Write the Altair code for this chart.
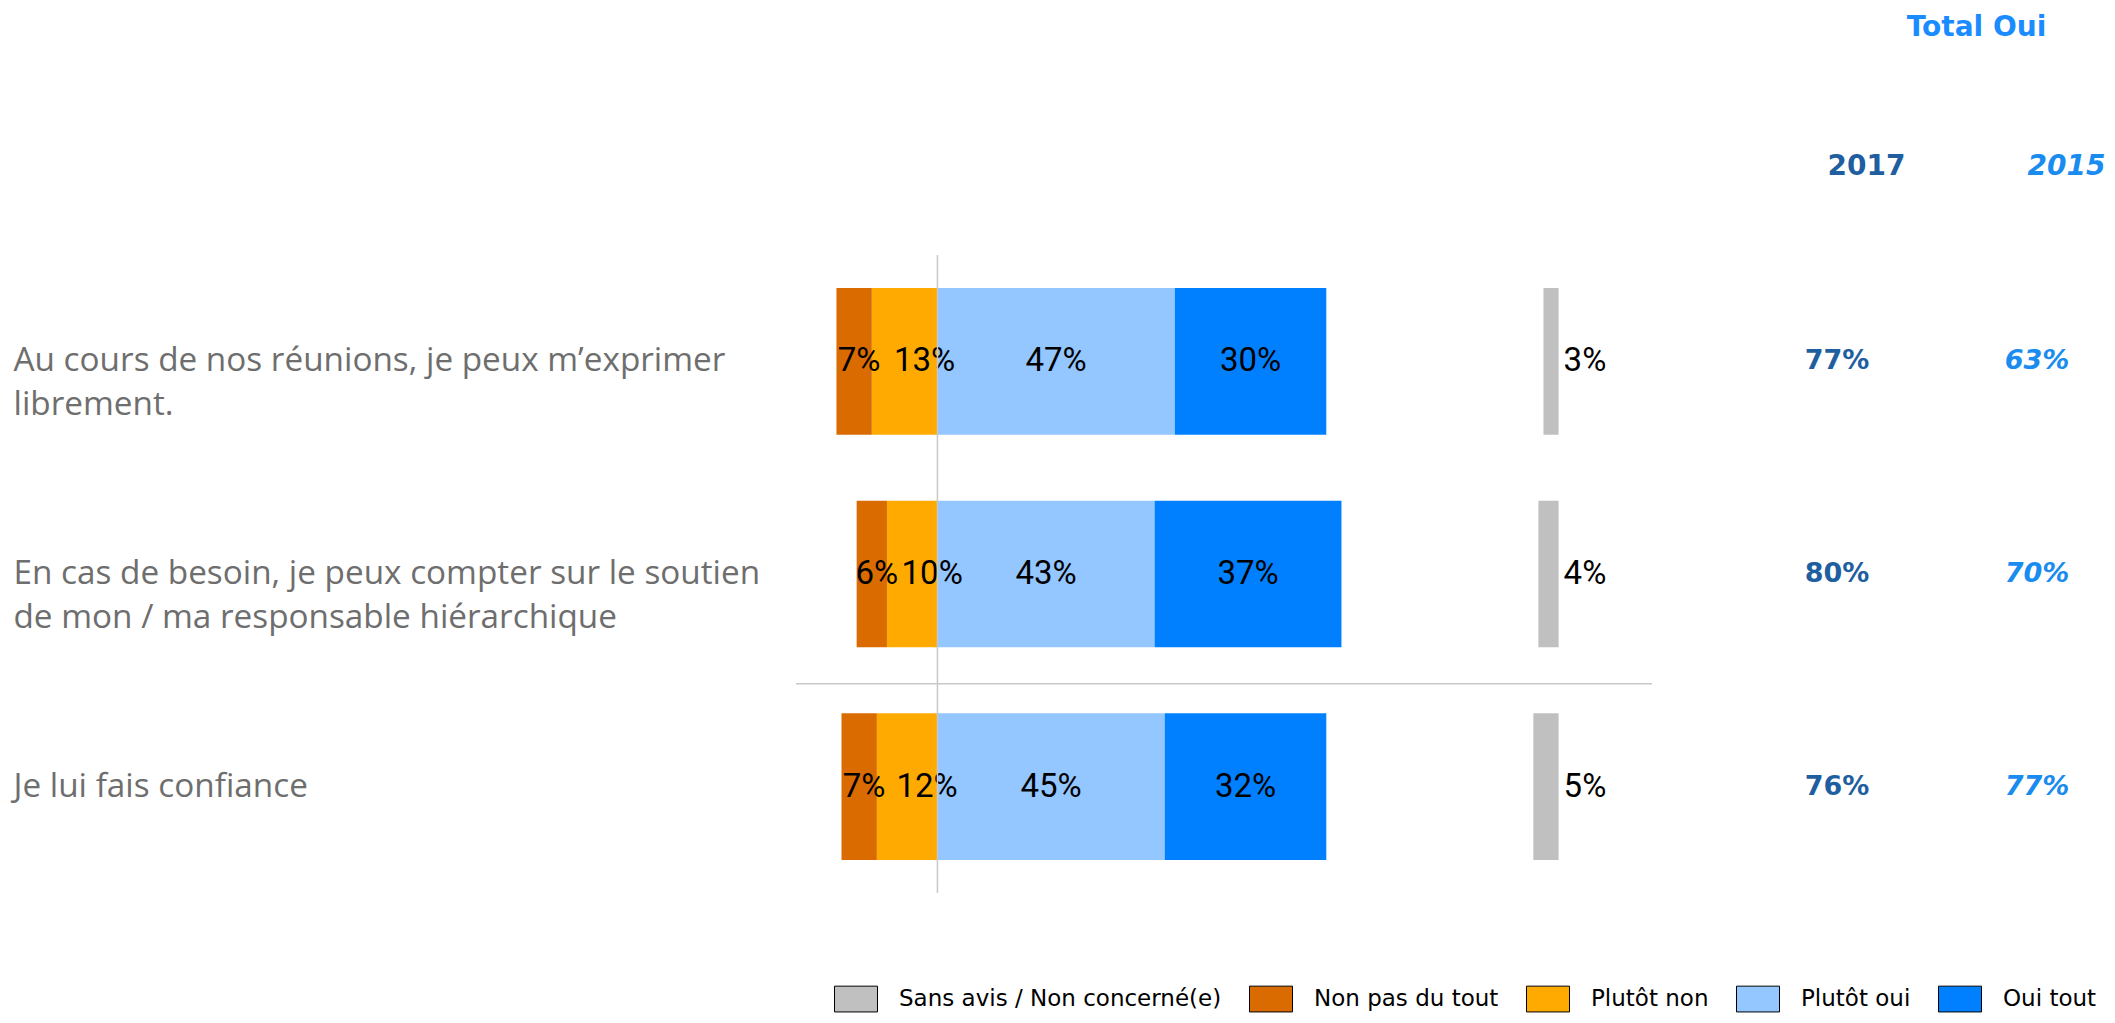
import altair as alt
import pandas as pd

# ---------------- data ----------------
QUESTIONS = [
    "Au cours de nos réunions, je peux m’exprimer\nlibrement.",
    "En cas de besoin, je peux compter sur le soutien\nde mon / ma responsable hiérarchique",
    "Je lui fais confiance",
]
CATEGORIES = ["Sans avis / Non concerné(e)", "Non pas du tout", "Plutôt non", "Plutôt oui", "Oui tout"]
COLORS = ["#C0C0C0", "#D96B00", "#FFAA00", "#94C6FF", "#0080FF"]

SANS_AVIS = [3, 4, 5]
NON_PAS_DU_TOUT = [7, 6, 7]
PLUTOT_NON = [13, 10, 12]
PLUTOT_OUI = [47, 43, 45]
OUI_TOUT = [30, 37, 32]

YEARS = ["2017", "2015"]
TOTAL_OUI_2017 = [77, 80, 76]
TOTAL_OUI_2015 = [63, 70, 77]

# ---------------- layout constants ----------------
X_DOMAIN = [-29, 230.8]      # percent units across the plot width
GREY_ANCHOR = 123            # right end of the "Sans avis" bars (percent units)
W, H = 1312, 638
LABEL_FONT = "Roboto"
LABEL_SIZE = 33

rows = []
for i, q in enumerate(QUESTIONS):
    pn = PLUTOT_NON[i]
    rows.append(dict(question=q, cat=CATEGORIES[2], start=-pn, end=0, value=pn))
    rows.append(dict(question=q, cat=CATEGORIES[1], start=-pn - NON_PAS_DU_TOUT[i], end=-pn, value=NON_PAS_DU_TOUT[i]))
    rows.append(dict(question=q, cat=CATEGORIES[3], start=0, end=PLUTOT_OUI[i], value=PLUTOT_OUI[i]))
    rows.append(dict(question=q, cat=CATEGORIES[4], start=PLUTOT_OUI[i], end=PLUTOT_OUI[i] + OUI_TOUT[i], value=OUI_TOUT[i]))
    rows.append(dict(question=q, cat=CATEGORIES[0], start=GREY_ANCHOR - SANS_AVIS[i], end=GREY_ANCHOR, value=SANS_AVIS[i]))
bars = pd.DataFrame(rows)
bars["mid"] = (bars["start"] + bars["end"]) / 2
bars["label"] = bars["value"].astype(str) + "%"

totals = pd.DataFrame(
    [dict(question=q, year="2017", label=f"{v}%") for q, v in zip(QUESTIONS, TOTAL_OUI_2017)]
    + [dict(question=q, year="2015", label=f"{v}%") for q, v in zip(QUESTIONS, TOTAL_OUI_2015)]
)


def y_enc():
    return alt.Y(
        "question:N",
        title=None,
        scale=alt.Scale(domain=QUESTIONS, paddingInner=0.31, paddingOuter=0.155),
        axis=alt.Axis(
            labelAlign="left", labelPadding=778, ticks=False, domain=False, grid=False,
            labelFont="Open Sans", labelFontSize=33.3, labelColor="#6E6E6E",
            labelLimit=900, labelBaseline="middle", labelLineHeight=44,
            labelExpr="split(datum.label, '\\n')",
        ),
    )


X_SCALE = alt.Scale(domain=X_DOMAIN, nice=False, zero=False)

color = alt.Color(
    "cat:N",
    scale=alt.Scale(domain=CATEGORIES, range=COLORS),
    legend=alt.Legend(
        orient="none", legendX=43, legendY=722, direction="horizontal", columns=5,
        title=None, padding=0,
        symbolType="M-1,-0.6H1V0.6H-1Z", symbolSize=1849,
        symbolStrokeColor="black", symbolStrokeWidth=1, symbolOpacity=1,
        labelFont="DejaVu Sans", labelFontSize=23, labelColor="black",
        labelOffset=21, columnPadding=25, labelLimit=600,
    ),
)

seg = alt.Chart(bars).mark_bar().encode(
    x=alt.X("start:Q", scale=X_SCALE, axis=None),
    x2="end:Q",
    y=y_enc(),
    color=color,
)


def seg_labels(cats, dx):
    return alt.Chart(bars).transform_filter(
        alt.FieldOneOfPredicate(field="cat", oneOf=cats)
    ).mark_text(font=LABEL_FONT, fontSize=LABEL_SIZE, color="black", baseline="middle",
                align="center", dx=dx).encode(
        x=alt.X("mid:Q", scale=X_SCALE, axis=None),
        y=y_enc(),
        text="label:N",
    )


text_non_pas = seg_labels([CATEGORIES[1]], 5)
text_plutot_non = seg_labels([CATEGORIES[2]], 20)
text_oui = seg_labels([CATEGORIES[3], CATEGORIES[4]], 0)

grey_text = alt.Chart(bars).transform_filter(
    alt.datum.cat == CATEGORIES[0]
).mark_text(font=LABEL_FONT, fontSize=LABEL_SIZE, color="black", baseline="middle", align="left", dx=5).encode(
    x=alt.X("end:Q", scale=X_SCALE, axis=None),
    y=y_enc(),
    text="label:N",
)

zero_rule = alt.Chart(pd.DataFrame({"zero": [0]})).mark_rule(color="#C8C8C8", strokeWidth=1.5).encode(
    x=alt.X("zero:Q", scale=X_SCALE, axis=None)
)

separator = alt.Chart(pd.DataFrame({"question": [QUESTIONS[2]]})).mark_rule(
    color="#C8C8C8", strokeWidth=1.5, yOffset=-103
).encode(y=y_enc(), x=alt.value(5), x2=alt.value(861))

left = alt.layer(seg, text_non_pas, text_plutot_non, text_oui, grey_text, zero_rule, separator)

YEAR_SCALE = alt.Scale(type="point", domain=YEARS, range=[1046, 1246], padding=0)
YEAR_AXIS = alt.Axis(
    orient="top", ticks=False, domain=False, grid=False, labelAngle=0,
    labelFont="DejaVu Sans", labelFontWeight="bold", labelFontSize=28,
    labelPadding=89, labelBaseline="middle", labelOffset=29,
    labelColor={"condition": {"test": "datum.value === '2017'", "value": "#1F5F9F"}, "value": "#1A8CF0"},
    labelFontStyle={"condition": {"test": "datum.value === '2017'", "value": "normal"}, "value": "italic"},
    title="Total Oui", titleFont="DejaVu Sans", titleFontWeight="bold", titleFontSize=28,
    titleColor="#1A8CFF", titleX=1185, titleY=-228, titleBaseline="middle", titleAlign="center",
)

t2017 = alt.Chart(totals).transform_filter(alt.datum.year == "2017").mark_text(
    font="DejaVu Sans", fontWeight="bold", fontSize=27, color="#1F5F9F", baseline="middle", align="center"
).encode(x=alt.X("year:N", scale=YEAR_SCALE, axis=YEAR_AXIS), y=y_enc(), text="label:N")

t2015 = alt.Chart(totals).transform_filter(alt.datum.year == "2015").mark_text(
    font="DejaVu Sans", fontWeight="bold", fontStyle="italic", fontSize=27, color="#1A8CF0",
    baseline="middle", align="center"
).encode(x=alt.X("year:N", scale=YEAR_SCALE, axis=YEAR_AXIS), y=y_enc(), text="label:N")

right = alt.layer(t2017, t2015)

chart = alt.layer(left, right).resolve_scale(x="independent").properties(
    width=W, height=H,
    autosize=alt.AutoSizeParams(type="none"),
    padding={"left": 783, "top": 247, "right": 4, "bottom": 122},
).configure(background="white").configure_view(stroke=None)

chart.save("out.html", embed_options={"renderer": "svg", "actions": False})
